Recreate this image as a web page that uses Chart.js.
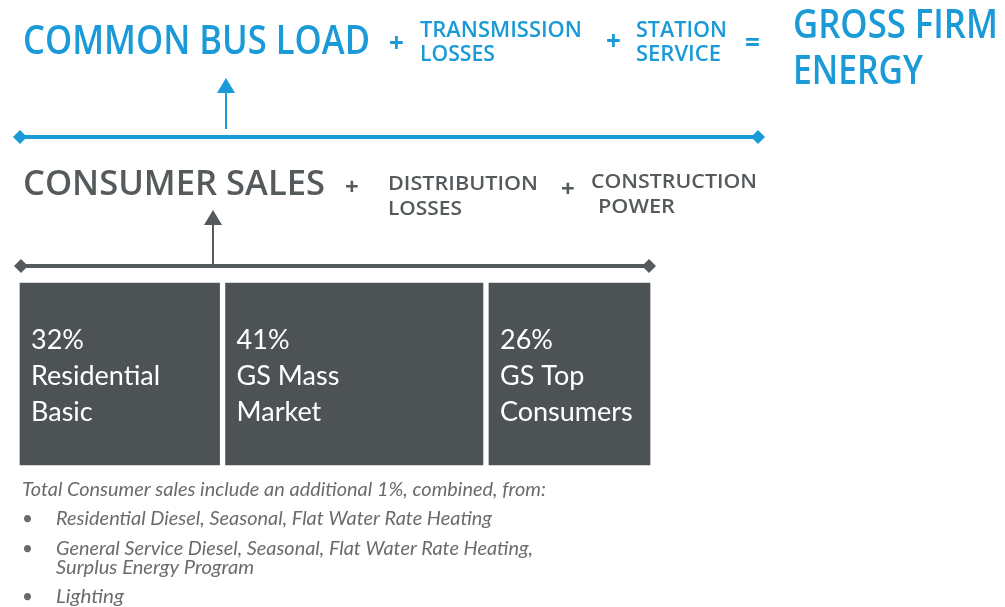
<!DOCTYPE html>
<html>
<head>
<meta charset="utf-8">
<script src="https://cdn.jsdelivr.net/npm/chart.js@4"></script>
<style>
  html, body { margin: 0; padding: 0; background: #fff; }
  #wrap { width: 1005px; height: 607px; position: relative; }
</style>
</head>
<body>
<div id="wrap"><canvas id="chart" width="1005" height="607"></canvas></div>
<script>
// consumer sales split
const categories = ['Consumer Sales'];
const segments = [['Residential', 'Basic'], ['GS Mass', 'Market'], ['GS Top', 'Consumers']];
const shares = [32, 41, 26];

const BLUE = '#1b9ad8';
const GREY = '#555a5c';
const BOX = '#4d5254';

const noteTitle = 'Total Consumer sales include an additional 1%, combined, from:';
const notes = [
  'Residential Diesel, Seasonal, Flat Water Rate Heating',
  'General Service Diesel, Seasonal, Flat Water Rate Heating,',
  'Surplus Energy Program',
  'Lighting'
];

function diamond(ctx, x, y, r) {
  ctx.beginPath();
  ctx.moveTo(x - r, y); ctx.lineTo(x, y - r); ctx.lineTo(x + r, y); ctx.lineTo(x, y + r);
  ctx.closePath(); ctx.fill();
}
function arrowUp(ctx, x, y0, y1, head) {
  ctx.beginPath(); ctx.moveTo(x, y0); ctx.lineTo(x, y1 + head); ctx.stroke();
  ctx.beginPath();
  ctx.moveTo(x, y1); ctx.lineTo(x - head * 0.6, y1 + head); ctx.lineTo(x + head * 0.6, y1 + head);
  ctx.closePath(); ctx.fill();
}
// squeeze text to the width it has in the picture
function fit(ctx, t, x, y, w) {
  const m = ctx.measureText(t).width;
  ctx.save();
  ctx.translate(x, y);
  ctx.scale(w / m, 1);
  ctx.fillText(t, 0, 0);
  ctx.restore();
}

const diagram = {
  id: 'diagram',
  afterDraw(chart) {
    const ctx = chart.ctx;
    ctx.save();
    ctx.textBaseline = 'middle';

    // top equation
    ctx.fillStyle = BLUE;
    ctx.font = '600 39px "Open Sans"';
    fit(ctx, 'COMMON BUS LOAD', 23, 43, 347);
    ctx.font = '600 40px "Open Sans"';
    fit(ctx, 'GROSS FIRM', 793, 27, 205);
    fit(ctx, 'ENERGY', 793, 73, 130);
    ctx.font = '600 22px "Open Sans"';
    fit(ctx, 'TRANSMISSION', 420, 31, 162);
    fit(ctx, 'LOSSES', 420, 55, 75);
    fit(ctx, 'STATION', 636, 31, 91);
    fit(ctx, 'SERVICE', 636, 55, 85);
    ctx.font = '700 26px "Open Sans"';
    ctx.fillText('+', 389, 45);
    ctx.fillText('+', 606, 43);
    ctx.fillText('=', 745, 45);

    ctx.strokeStyle = BLUE;
    ctx.lineWidth = 4;
    ctx.beginPath(); ctx.moveTo(18, 137); ctx.lineTo(760, 137); ctx.stroke();
    diamond(ctx, 20, 137, 7);
    diamond(ctx, 758, 137, 7);
    ctx.lineWidth = 2;
    arrowUp(ctx, 226, 129, 78, 15);

    // consumer sales line
    ctx.fillStyle = GREY;
    ctx.font = '600 35px "Open Sans"';
    fit(ctx, 'CONSUMER SALES', 23, 185, 302);
    ctx.font = '600 20px "Open Sans"';
    fit(ctx, 'DISTRIBUTION', 388, 184, 150);
    fit(ctx, 'LOSSES', 388, 209, 74);
    fit(ctx, 'CONSTRUCTION', 591, 182, 166);
    fit(ctx, 'POWER', 598, 207, 77);
    ctx.font = '700 24px "Open Sans"';
    ctx.fillText('+', 345, 188);
    ctx.fillText('+', 561, 190);

    ctx.strokeStyle = GREY;
    ctx.lineWidth = 4;
    const a = chart.chartArea;
    ctx.beginPath(); ctx.moveTo(a.left + 2, 266); ctx.lineTo(a.right - 2, 266); ctx.stroke();
    diamond(ctx, a.left + 4, 266, 7);
    diamond(ctx, a.right - 4, 266, 7);
    ctx.lineWidth = 2;
    arrowUp(ctx, 213, 264, 210, 15);

    // box labels
    ctx.fillStyle = '#fff';
    ctx.font = '400 27px Lato';
    chart.data.datasets.forEach((ds, i) => {
      const el = chart.getDatasetMeta(i).data[0];
      const x = Math.min(el.base, el.x) + 14;
      const lines = [shares[i] + '%'].concat(segments[i]);
      lines.forEach((t, j) => ctx.fillText(t, x, 340 + j * 36));
    });

    // notes
    ctx.fillStyle = '#6b6b6b';
    ctx.font = 'italic 19px Lato';
    fit(ctx, noteTitle, 22, 490, 524);
    const ys = [519, 549, 568, 597];
    const ws = [436, 477, 198, 68];
    notes.forEach((t, i) => {
      if (i !== 2) ctx.fillText('\u2022', 22, ys[i]);
      fit(ctx, t, 56, ys[i], ws[i]);
    });
    ctx.restore();
  }
};

new Chart(document.getElementById('chart'), {
  type: 'bar',
  data: {
    labels: categories,
    datasets: shares.map((v, i) => ({
      label: segments[i].join(' '),
      data: [v],
      backgroundColor: BOX,
      borderColor: '#fff',
      borderWidth: 3,
      borderSkipped: false,
      barPercentage: 1,
      categoryPercentage: 1
    }))
  },
  options: {
    indexAxis: 'y',
    responsive: false,
    animation: false,
    layout: { padding: { left: 17, right: 352, top: 280, bottom: 139 } },
    scales: {
      x: { stacked: true, min: 0, max: 99, display: false },
      y: { stacked: true, display: false }
    },
    plugins: { legend: { display: false }, tooltip: { enabled: false } }
  },
  plugins: [diagram]
});
</script>
</body>
</html>
